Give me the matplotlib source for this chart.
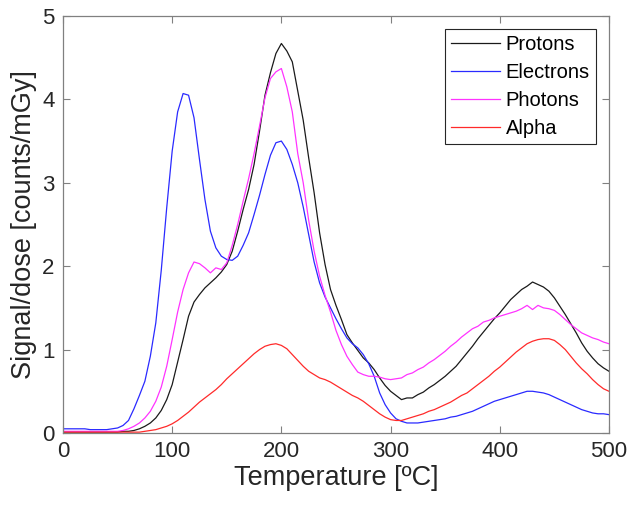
import numpy as np
import matplotlib
matplotlib.use('Agg')
import matplotlib.pyplot as plt

plt.rcParams['font.family'] = ['Liberation Sans', 'DejaVu Sans']

# temperatura (ºC), paso de 5 grados
temperatura = np.arange(0, 505, 5)

protones = [0.01, 0.01, 0.01, 0.01, 0.01, 0.01, 0.01, 0.01, 0.01, 0.01,
            0.01, 0.02, 0.02, 0.03, 0.05, 0.08, 0.12, 0.18, 0.27, 0.40,
            0.58, 0.85, 1.12, 1.40, 1.57, 1.66, 1.74, 1.80, 1.86, 1.93,
            2.02, 2.18, 2.42, 2.68, 2.92, 3.22, 3.62, 4.05, 4.32, 4.55,
            4.67, 4.58, 4.45, 4.10, 3.75, 3.30, 2.88, 2.40, 2.02, 1.72,
            1.53, 1.36, 1.18, 1.08, 0.99, 0.90, 0.84, 0.76, 0.66, 0.57,
            0.50, 0.45, 0.40, 0.42, 0.42, 0.46, 0.49, 0.54, 0.58, 0.63,
            0.68, 0.74, 0.80, 0.88, 0.96, 1.04, 1.13, 1.21, 1.29, 1.37,
            1.44, 1.52, 1.60, 1.66, 1.72, 1.76, 1.81, 1.78, 1.75, 1.70,
            1.62, 1.52, 1.42, 1.31, 1.20, 1.08, 0.98, 0.90, 0.83, 0.78,
            0.74]

electrones = [0.05, 0.05, 0.05, 0.05, 0.05, 0.04, 0.04, 0.04, 0.04, 0.05,
              0.06, 0.09, 0.15, 0.29, 0.45, 0.62, 0.92, 1.32, 1.95, 2.70,
              3.38, 3.85, 4.07, 4.05, 3.78, 3.28, 2.80, 2.42, 2.22, 2.12,
              2.08, 2.07, 2.12, 2.25, 2.40, 2.62, 2.85, 3.10, 3.33, 3.48,
              3.50, 3.40, 3.22, 3.00, 2.71, 2.38, 2.05, 1.80, 1.63, 1.50,
              1.37, 1.25, 1.14, 1.07, 1.02, 0.94, 0.83, 0.68, 0.48, 0.34,
              0.24, 0.17, 0.14, 0.12, 0.12, 0.12, 0.13, 0.14, 0.15, 0.16,
              0.17, 0.19, 0.20, 0.22, 0.24, 0.26, 0.29, 0.32, 0.35, 0.38,
              0.40, 0.42, 0.44, 0.46, 0.48, 0.50, 0.50, 0.49, 0.48, 0.46,
              0.43, 0.40, 0.37, 0.34, 0.31, 0.28, 0.26, 0.24, 0.23, 0.23,
              0.22]

fotones = [0.02, 0.02, 0.02, 0.02, 0.02, 0.02, 0.02, 0.02, 0.02, 0.02,
           0.02, 0.03, 0.05, 0.08, 0.12, 0.18, 0.26, 0.38, 0.55, 0.80,
           1.12, 1.45, 1.72, 1.92, 2.05, 2.03, 1.98, 1.92, 1.98, 1.96,
           2.04, 2.25, 2.50, 2.78, 3.05, 3.35, 3.68, 4.02, 4.25, 4.33,
           4.37, 4.15, 3.85, 3.35, 3.00, 2.55, 2.18, 1.88, 1.65, 1.45,
           1.23, 1.06, 0.92, 0.82, 0.73, 0.70, 0.68, 0.68, 0.67, 0.65,
           0.64, 0.65, 0.66, 0.70, 0.72, 0.76, 0.79, 0.84, 0.88, 0.93,
           0.98, 1.04, 1.09, 1.15, 1.20, 1.25, 1.28, 1.33, 1.35, 1.38,
           1.40, 1.42, 1.44, 1.46, 1.49, 1.53, 1.48, 1.53, 1.50, 1.49,
           1.47, 1.42, 1.36, 1.30, 1.25, 1.20, 1.17, 1.14, 1.12, 1.09,
           1.07]

alfa = [0.01, 0.01, 0.01, 0.01, 0.01, 0.01, 0.01, 0.01, 0.01, 0.01,
        0.01, 0.01, 0.01, 0.01, 0.01, 0.02, 0.03, 0.04, 0.06, 0.08,
        0.11, 0.15, 0.20, 0.25, 0.31, 0.37, 0.42, 0.47, 0.52, 0.58,
        0.65, 0.71, 0.77, 0.83, 0.89, 0.95, 1.00, 1.04, 1.06, 1.07,
        1.05, 1.01, 0.94, 0.87, 0.80, 0.74, 0.70, 0.66, 0.64, 0.61,
        0.57, 0.53, 0.49, 0.45, 0.42, 0.38, 0.33, 0.28, 0.23, 0.19,
        0.16, 0.15, 0.15, 0.17, 0.19, 0.21, 0.23, 0.26, 0.28, 0.31,
        0.34, 0.37, 0.41, 0.45, 0.48, 0.53, 0.58, 0.63, 0.68, 0.74,
        0.79, 0.85, 0.91, 0.97, 1.02, 1.07, 1.10, 1.12, 1.13, 1.13,
        1.11, 1.06, 1.00, 0.92, 0.84, 0.77, 0.71, 0.64, 0.58, 0.53,
        0.50]

nombres = ['Protons', 'Electrons', 'Photons', 'Alpha']
colores = ['#1a1a1a', '#2a2aff', '#ff33ff', '#ff2a2a']

fig = plt.figure(figsize=(6.31, 5.07), dpi=100)
ax = fig.add_axes([0.0998, 0.146, 0.8653, 0.8225])

for serie, nombre, color in zip([protones, electrones, fotones, alfa], nombres, colores):
    ax.plot(temperatura, serie, color=color, lw=0.9, label=nombre)

ax.set_xlim(0, 500)
ax.set_ylim(0, 5)
ax.set_xticks([0, 100, 200, 300, 400, 500])
ax.set_yticks([0, 1, 2, 3, 4, 5])
ax.tick_params(direction='in', top=True, right=True, length=5, width=0.8,
               color='#808080', labelsize=16, labelcolor='#262626', pad=6)
for lado in ax.spines.values():
    lado.set_color('#808080')
    lado.set_linewidth(0.9)

ax.set_xlabel('Temperature [ºC]', fontsize=19.5, color='#262626', labelpad=2)
ax.set_ylabel('Signal/dose [counts/mGy]', fontsize=19.5, color='#262626', labelpad=4)

leg = ax.legend(loc='upper right', bbox_to_anchor=(0.976, 0.969), borderaxespad=0,
                fontsize=14.5, fancybox=False, framealpha=1, edgecolor='#262626',
                handlelength=2.4, handletextpad=0.3, labelspacing=0.45,
                borderpad=0.3)
leg.get_frame().set_linewidth(0.8)

fig.savefig('out.png', dpi=100)
